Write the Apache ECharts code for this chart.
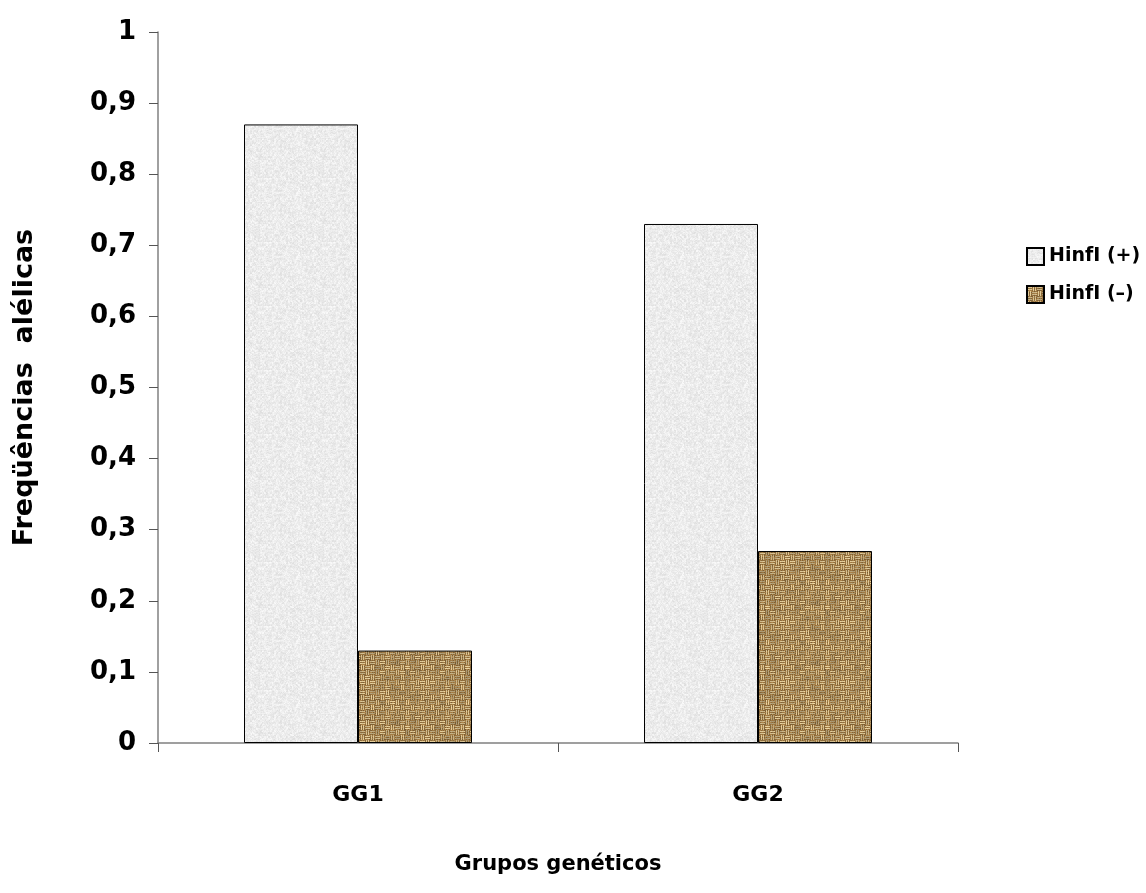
<!DOCTYPE html>
<html>
<head>
<meta charset="utf-8">
<script src="https://cdn.jsdelivr.net/npm/echarts@6/dist/echarts.min.js"></script>
<style>
  html, body { margin: 0; padding: 0; background: #fff; }
  #chart { width: 1146px; height: 893px; }
</style>
</head>
<body>
<div id="chart"></div>
<script>
// Allele frequencies per genetic group
const categories = ['GG1', 'GG2'];
const hinfPlus = [0.87, 0.73];
const hinfMinus = [0.13, 0.27];
const seriesNames = ['HinfI (+)', 'HinfI (\u2013)'];

const FONT = '"DejaVu Sans", sans-serif';

// Small deterministic hash used to speckle the fill textures
function hash(x, y, s) {
  let h = (x * 374761393 + y * 668265263 + s * 982451653) | 0;
  h = Math.imul(h ^ (h >>> 13), 1274126177);
  h = h ^ (h >>> 16);
  return ((h >>> 0) % 1000) / 1000;
}

// Pale grey granite-like tile
function makeGranite() {
  const c = document.createElement('canvas');
  c.width = 64; c.height = 64;
  const ctx = c.getContext('2d');
  const img = ctx.createImageData(64, 64);
  for (let y = 0; y < 64; y++) {
    for (let x = 0; x < 64; x++) {
      const r = (hash(x, y, 1) + hash(x >> 1, y >> 1, 2)) / 2;
      const v = Math.round(236 + (r - 0.5) * 30);
      const i = (y * 64 + x) * 4;
      img.data[i] = v; img.data[i + 1] = v; img.data[i + 2] = v; img.data[i + 3] = 255;
    }
  }
  ctx.putImageData(img, 0, 0);
  return c;
}

// Burlap basket-weave tile
function makeBurlap() {
  const N = 60;
  const c = document.createElement('canvas');
  c.width = N; c.height = N;
  const ctx = c.getContext('2d');
  const img = ctx.createImageData(N, N);
  const B = 5;
  for (let y = 0; y < N; y++) {
    for (let x = 0; x < N; x++) {
      const bx = Math.floor(x / B), by = Math.floor(y / B);
      const horiz = (bx + by) % 2 === 0;
      const lx = x % B, ly = y % B;
      const along = horiz ? ly : lx;
      const strand = along === 1 || along === 3;
      const n = hash(x, y, 5);
      const m = hash(bx, by, 9);
      let r, g, b;
      if (strand) {
        const k = 0.7 + 0.25 * m + 0.1 * (n - 0.5);
        r = 244 * k; g = 220 * k; b = 166 * k;
      } else {
        const k = 0.75 + 0.35 * n;
        r = 160 * k; g = 122 * k; b = 68 * k;
      }
      const i = (y * N + x) * 4;
      img.data[i] = Math.min(255, r); img.data[i + 1] = Math.min(255, g);
      img.data[i + 2] = Math.min(255, b); img.data[i + 3] = 255;
    }
  }
  ctx.putImageData(img, 0, 0);
  return c;
}

const granite = { image: makeGranite(), repeat: 'repeat' };
const burlap = { image: makeBurlap(), repeat: 'repeat' };

const chart = echarts.init(document.getElementById('chart'));
chart.setOption({
  backgroundColor: '#ffffff',
  animation: false,
  grid: { left: 158, top: 32, right: 188, bottom: 150, containLabel: false, outerBoundsMode: 'none' },
  legend: {
    orient: 'vertical',
    left: 1021,
    top: 242,
    itemWidth: 17,
    itemHeight: 17,
    itemGap: 19,
    icon: 'rect',
    textStyle: { fontFamily: FONT, fontWeight: 'bold', fontSize: 19, color: '#000' },
    data: seriesNames
  },
  xAxis: {
    type: 'category',
    data: categories,
    axisLine: { lineStyle: { color: '#808080', width: 1.5 } },
    axisTick: { show: true, length: 9, lineStyle: { color: '#555' } },
    axisLabel: { margin: 41, fontFamily: FONT, fontWeight: 'bold', fontSize: 22, color: '#000' },
    name: 'Grupos genéticos',
    nameLocation: 'middle',
    nameGap: 111,
    nameTextStyle: { fontFamily: FONT, fontWeight: 'bold', fontSize: 21, color: '#000' }
  },
  yAxis: {
    type: 'value',
    min: 0,
    max: 1,
    interval: 0.1,
    splitLine: { show: false },
    axisLine: { show: true, lineStyle: { color: '#808080', width: 1.5 } },
    axisTick: { show: true, length: 9, lineStyle: { color: '#555' } },
    axisLabel: {
      margin: 22,
      fontFamily: FONT, fontWeight: 'bold', fontSize: 26, color: '#000',
      formatter: v => String(Math.round(v * 10) / 10).replace('.', ',')
    },
    name: 'Freqüências  alélicas',
    nameLocation: 'middle',
    nameGap: 120,
    nameTextStyle: { fontFamily: FONT, fontWeight: 'bold', fontSize: 27, color: '#000' }
  },
  series: [
    {
      name: seriesNames[0],
      type: 'bar',
      data: hinfPlus,
      barWidth: '28.5%',
      barGap: '0%',
      itemStyle: { color: granite, borderColor: '#000', borderWidth: 1 }
    },
    {
      name: seriesNames[1],
      type: 'bar',
      data: hinfMinus,
      barWidth: '28.5%',
      barGap: '0%',
      itemStyle: { color: burlap, borderColor: '#000', borderWidth: 1 }
    }
  ]
});
</script>
</body>
</html>
